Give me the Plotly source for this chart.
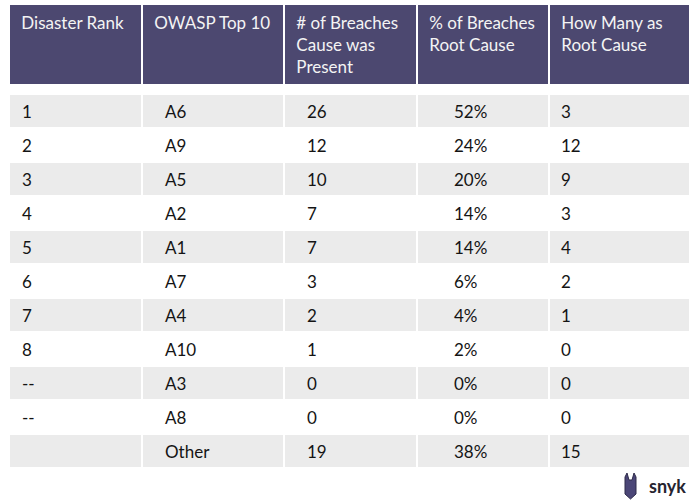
import plotly.graph_objects as go

# ---- data ----
headers = ["Disaster Rank", "OWASP Top 10", "# of Breaches<br>Cause was<br>Present",
           "% of Breaches<br>Root Cause", "How Many as<br>Root Cause"]
disaster_rank = ["1", "2", "3", "4", "5", "6", "7", "8", "--", "--", ""]
owasp = ["A6", "A9", "A5", "A2", "A1", "A7", "A4", "A10", "A3", "A8", "Other"]
breaches_present = ["26", "12", "10", "7", "7", "3", "2", "1", "0", "0", "19"]
pct_root_cause = ["52%", "24%", "20%", "14%", "14%", "6%", "4%", "2%", "0%", "0%", "38%"]
how_many_root = ["3", "12", "9", "3", "4", "2", "1", "0", "0", "0", "15"]

# ---- layout constants (pixels) ----
W, H = 700, 504
FONT = "Lato, 'Open Sans', sans-serif"
PURPLE = "#4c4870"
GRAY = "#ebebeb"
CLEAR = "rgba(0,0,0,0)"
col_edges = [9, 142, 284, 417, 549, 690]
text_edges = [14, 157, 299, 446, 553, 690]     # left edges of body text columns
hdr_top, hdr_bot = 4, 82
body_top = 94
text_drop = 3
row_h = 34

def fx(px):
    return px / W

def fy(py):
    return 1 - py / H

cols = [disaster_rank, owasp, breaches_present, pct_root_cause, how_many_root]
n = len(owasp)
row_fill = [GRAY if i % 2 == 0 else "white" for i in range(n)]
col_w = [col_edges[i + 1] - col_edges[i] for i in range(5)]
txt_w = [text_edges[i + 1] - text_edges[i] for i in range(5)]
dummy_cells = dict(values=[[""] for _ in range(5)], height=1, fill_color=CLEAR,
                   line=dict(color=CLEAR, width=0), font=dict(size=1))
body_bottom = fy(body_top + n * row_h + 30)

fig = go.Figure()

# header table
fig.add_trace(go.Table(
    domain=dict(x=[fx(col_edges[0]), fx(col_edges[-1])], y=[fy(hdr_bot + 4), fy(hdr_top)]),
    columnwidth=col_w,
    header=dict(values=["&nbsp;" + h.replace("<br>", "<br>&nbsp;") for h in headers],
                fill_color=PURPLE, line=dict(color="white", width=2),
                align="left", height=hdr_bot - hdr_top,
                font=dict(family=FONT, size=17, color="#f4f4f4")),
    cells=dummy_cells,
))

# body background (rows drawn as multi-row header, which is never scroll-clipped)
fig.add_trace(go.Table(
    domain=dict(x=[fx(col_edges[0]), fx(col_edges[-1])], y=[body_bottom, fy(body_top)]),
    columnwidth=col_w,
    header=dict(values=[[""] * n for _ in range(5)],
                fill_color=[row_fill] * 5, line=dict(color="white", width=2),
                height=row_h, font=dict(family=FONT, size=17)),
    cells=dummy_cells,
))

# body text (transparent, columns offset to match text indents)
fig.add_trace(go.Table(
    domain=dict(x=[fx(text_edges[0]), fx(text_edges[-1])], y=[body_bottom, fy(body_top + text_drop)]),
    columnwidth=txt_w,
    header=dict(values=cols, fill_color=CLEAR, line=dict(color=CLEAR, width=0),
                align="left", height=row_h,
                font=dict(family=FONT, size=17, color="#141414")),
    cells=dummy_cells,
))

# snyk logo (simple dog head icon + wordmark)
fig.add_shape(type="path", xref="paper", yref="paper",
              path=(f"M {fx(625)} {fy(477)} L {fx(627)} {fy(473)} L {fx(629)} {fy(480)} "
                    f"L {fx(632)} {fy(480)} L {fx(634)} {fy(473)} L {fx(636)} {fy(477)} "
                    f"L {fx(636)} {fy(494)} L {fx(630.5)} {fy(499)} L {fx(625)} {fy(494)} Z"),
              fillcolor="#4b4677", line=dict(color="#2e2b4a", width=1))
fig.add_annotation(x=fx(647), y=fy(486), xref="paper", yref="paper", text="<b>snyk</b>",
                   showarrow=False, xanchor="left", yanchor="middle",
                   font=dict(family=FONT, size=18, color="#26242f"))

fig.update_layout(width=W, height=H, margin=dict(l=0, r=0, t=0, b=0),
                  paper_bgcolor="white", plot_bgcolor="white")
fig.write_html("out.html", config={"displayModeBar": False},
               post_script="document.body.style.margin='0px';")
